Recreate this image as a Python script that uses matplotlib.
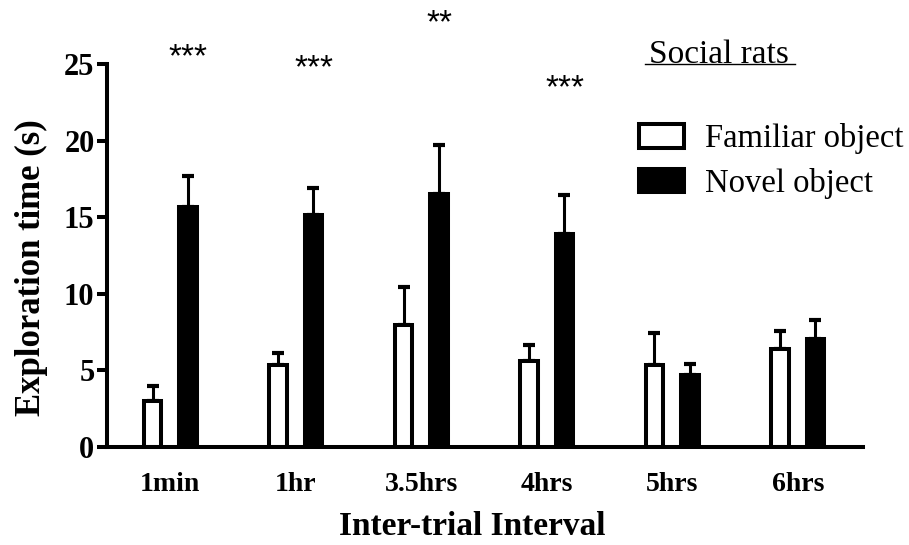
import numpy as np
import matplotlib.pyplot as plt

# data
intervals = ["1min", "1hr", "3.5hrs", "4hrs", "5hrs", "6hrs"]
familiar_mean = [3.0, 5.35, 7.96, 5.61, 5.35, 6.4]
familiar_sem = [0.98, 0.79, 2.48, 1.05, 2.09, 1.17]
novel_mean = [15.67, 15.14, 16.51, 13.9, 4.7, 7.05]
novel_sem = [2.02, 1.77, 3.2, 2.55, 0.72, 1.24]
stars = ["***", "***", "**", "***", "", ""]
star_y = [25.4, 24.67, 27.6, 23.36, 0, 0]

serif = "Liberation Serif"

fig = plt.figure(figsize=(9.09, 5.45), dpi=100)
ax = fig.add_axes([107 / 909, 98 / 545, 756 / 909, 383 / 545])

x = np.arange(len(intervals))
off = 0.1414
w = 0.143

ax.errorbar(x - off, familiar_mean, yerr=[np.zeros(6), familiar_sem], fmt="none",
            ecolor="black", elinewidth=2.2, capsize=4.3, capthick=3, zorder=1)
ax.errorbar(x + off, novel_mean, yerr=[np.zeros(6), novel_sem], fmt="none",
            ecolor="black", elinewidth=2.2, capsize=4.3, capthick=3, zorder=1)

b1 = ax.bar(x - off, familiar_mean, width=w, color="white", edgecolor="black",
            linewidth=2.9, label="Familiar object", zorder=2)
b2 = ax.bar(x + off, novel_mean, width=w, color="black", edgecolor="black",
            linewidth=2.9, label="Novel object", zorder=2)

for i, s in enumerate(stars):
    if s:
        ax.text(x[i] + off, star_y[i], s, ha="center", va="center", fontsize=24,
                family="Liberation Sans", clip_on=False)

ax.set_xlim(-0.504, 5.52)
ax.set_ylim(0, 25)
ax.set_yticks([0, 5, 10, 15, 20, 25])
ax.set_xticks(x)
ax.set_xticklabels(intervals)

for sp in ["top", "right"]:
    ax.spines[sp].set_visible(False)
for sp in ["left", "bottom"]:
    ax.spines[sp].set_linewidth(2.9)

ax.tick_params(axis="y", direction="out", length=7, width=2.9, pad=2)
ax.tick_params(axis="x", length=0, pad=18)
for lab in ax.get_yticklabels():
    lab.set_fontfamily(serif)
    lab.set_fontweight("bold")
    lab.set_fontsize(22)
for lab in ax.get_xticklabels():
    lab.set_fontfamily(serif)
    lab.set_fontweight("bold")
    lab.set_fontsize(20)

ax.set_ylabel("Exploration time (s)", fontsize=25, fontweight="bold", family=serif)
ax.set_xlabel("Inter-trial Interval", fontsize=24, fontweight="bold", family=serif)
ax.yaxis.set_label_coords(-59 / 756, 0.469)
ax.xaxis.set_label_coords((472 - 107) / 756, -64 / 383)

ax.text(0.81, 1.023, "Social rats", transform=ax.transAxes, ha="center", va="center",
        fontsize=24, family=serif)
ax.plot([0.712, 0.910], [1.0, 1.0], transform=ax.transAxes, color="black",
        linewidth=1, clip_on=False)

ax.legend(handles=[b1, b2], loc="upper left", bbox_to_anchor=(0.704, 0.845), frameon=False,
          prop={"family": serif, "size": 23.5}, handlelength=1.38, handleheight=0.72,
          handletextpad=0.64, labelspacing=0.41, borderaxespad=0, borderpad=0)

fig.savefig("out.png", dpi=100)
